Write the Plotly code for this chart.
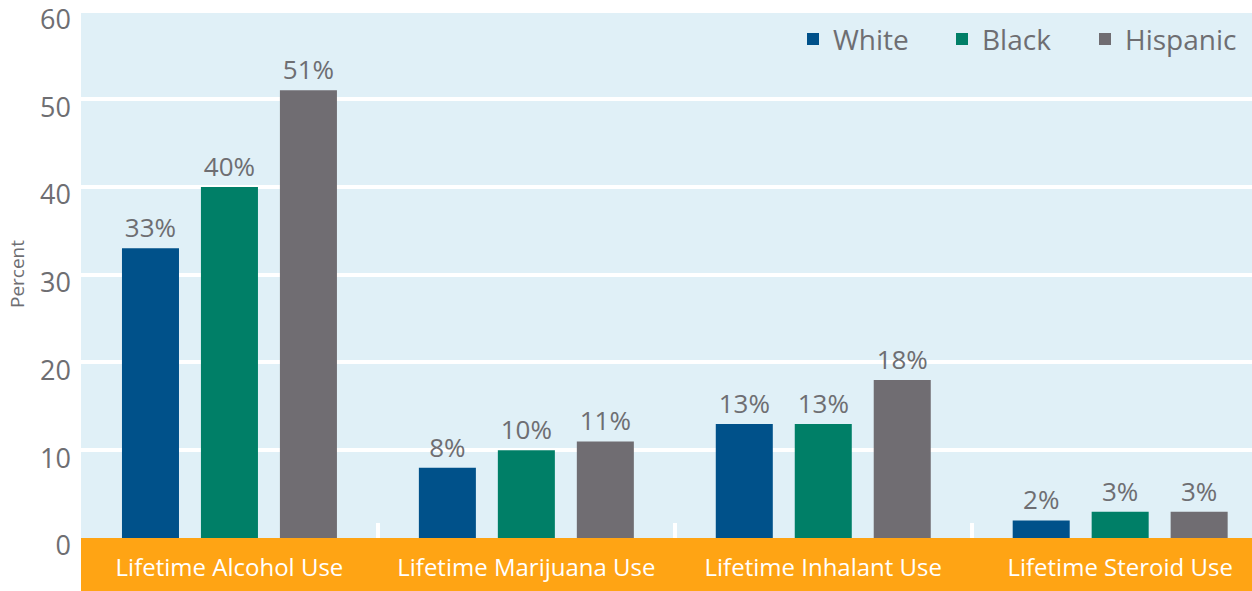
import plotly.graph_objects as go

categories = ["Lifetime Alcohol Use", "Lifetime Marijuana Use",
              "Lifetime Inhalant Use", "Lifetime Steroid Use"]
white = [33, 8, 13, 2]
black = [40, 10, 13, 3]
hispanic = [51, 11, 18, 3]
y_ticks = [0, 10, 20, 30, 40, 50, 60]

# name, values, colour, legend id, legend left edge (px)
series = [
    ("White", white, "#00518a", "legend", 793),
    ("Black", black, "#007f67", "legend2", 942),
    ("Hispanic", hispanic, "#706d72", "legend3", 1085),
]

FONT = "Open Sans"
GRAY = "#6e6e72"
PLOT_LEFT, PLOT_WIDTH = 81, 1171

fig = go.Figure()
legends = {}
for name, vals, color, leg, left_px in series:
    fig.add_trace(go.Bar(
        name=name,
        x=categories,
        y=vals,
        legend=leg,
        showlegend=True,
        marker=dict(color=color, line=dict(width=0)),
        text=[f"{v}%" for v in vals],
        textposition="outside",
        textfont=dict(family=FONT, size=26, color=GRAY),
        cliponaxis=False,
    ))
    legends[leg] = dict(
        visible=True,
        orientation="h",
        x=(left_px - PLOT_LEFT) / PLOT_WIDTH, xanchor="left",
        y=0.992, yanchor="top",
        bgcolor="rgba(0,0,0,0)",
        font=dict(family=FONT, size=28, color=GRAY),
        itemwidth=30,
    )

# orange band carrying the category names
fig.add_shape(type="rect", xref="paper", yref="paper",
              x0=0, x1=1, y0=-0.2, y1=0,
              fillcolor="#ffa414", line=dict(width=0), layer="below")

fig.update_layout(
    width=1252, height=591,
    margin=dict(l=PLOT_LEFT, r=0, t=10, b=53),
    paper_bgcolor="white",
    plot_bgcolor="#e0f0f7",
    showlegend=True,
    barmode="group",
    bargap=0.202,
    bargroupgap=0.278,
    font=dict(family=FONT, color=GRAY),
    **legends,
    xaxis=dict(
        range=[-0.5, 3.444],
        showgrid=False,
        zeroline=False,
        showline=False,
        ticks="inside",
        tickson="boundaries",
        ticklen=15,
        tickwidth=4,
        tickcolor="white",
        ticklabelstandoff=13,
        tickfont=dict(family=FONT, size=24, color="white"),
    ),
    yaxis=dict(
        range=[0, 60.15],
        tickvals=y_ticks,
        showgrid=True,
        gridcolor="white",
        gridwidth=4,
        zeroline=False,
        showline=False,
        ticks="",
        ticklabelstandoff=9,
        ticklabelshift=8,
        ticklabeloverflow="allow",
        tickfont=dict(family=FONT, size=27, color=GRAY),
        title=dict(text="Percent", font=dict(family=FONT, size=19, color=GRAY),
                   standoff=10),
    ),
)

fig.write_html("out.html")
